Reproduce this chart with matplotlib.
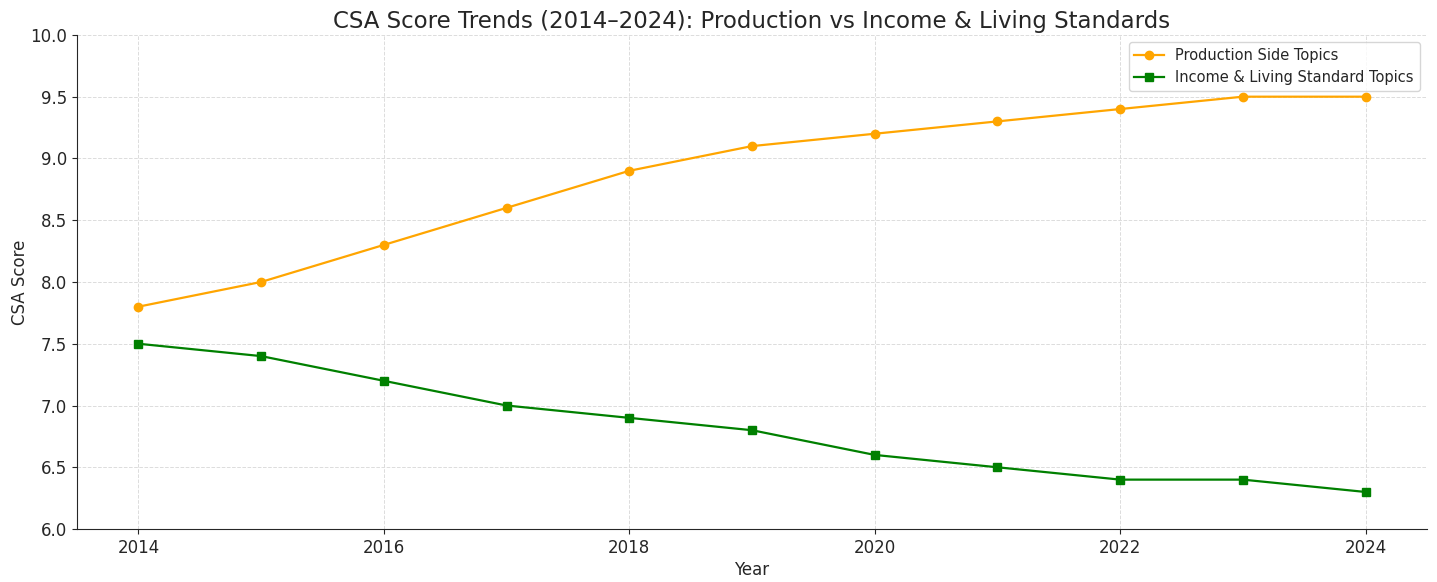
import numpy as np
import matplotlib.pyplot as plt

# Daten
years = [2014, 2015, 2016, 2017, 2018, 2019, 2020, 2021, 2022, 2023, 2024]
production = [7.8, 8.0, 8.3, 8.6, 8.9, 9.1, 9.2, 9.3, 9.4, 9.5, 9.5]
income = [7.5, 7.4, 7.2, 7.0, 6.9, 6.8, 6.6, 6.5, 6.4, 6.4, 6.3]

TEXT_COLOR = "#262626"

fig = plt.figure(figsize=(14.37, 5.82), dpi=100)
ax = fig.add_axes([0.0536, 0.091, 0.9394, 0.849])

ax.plot(years, production, marker="o", markersize=6, lw=1.6,
        color="orange", label="Production Side Topics")
ax.plot(years, income, marker="s", markersize=6, lw=1.6,
        color="green", label="Income & Living Standard Topics")

ax.set_ylim(6.0, 10.0)
ax.set_yticks(np.arange(6.0, 10.01, 0.5))
ax.set_xticks([2014, 2016, 2018, 2020, 2022, 2024])

ax.set_title("CSA Score Trends (2014\u20132024): Production vs Income & Living Standards",
             fontsize=16.5, color=TEXT_COLOR, pad=5)
ax.set_xlabel("Year", fontsize=12, color=TEXT_COLOR, labelpad=3)
ax.set_ylabel("CSA Score", fontsize=12, color=TEXT_COLOR, labelpad=1)
ax.tick_params(labelsize=12, colors=TEXT_COLOR, length=3.5)

ax.grid(True, ls="--", color="#dcdcdc", lw=0.7)
ax.spines["top"].set_visible(False)
ax.spines["right"].set_visible(False)
for s in ("left", "bottom"):
    ax.spines[s].set_color(TEXT_COLOR)

leg = ax.legend(loc="upper right", fontsize=10.5)
for t in leg.get_texts():
    t.set_color(TEXT_COLOR)

fig.savefig("out.png", dpi=100)
